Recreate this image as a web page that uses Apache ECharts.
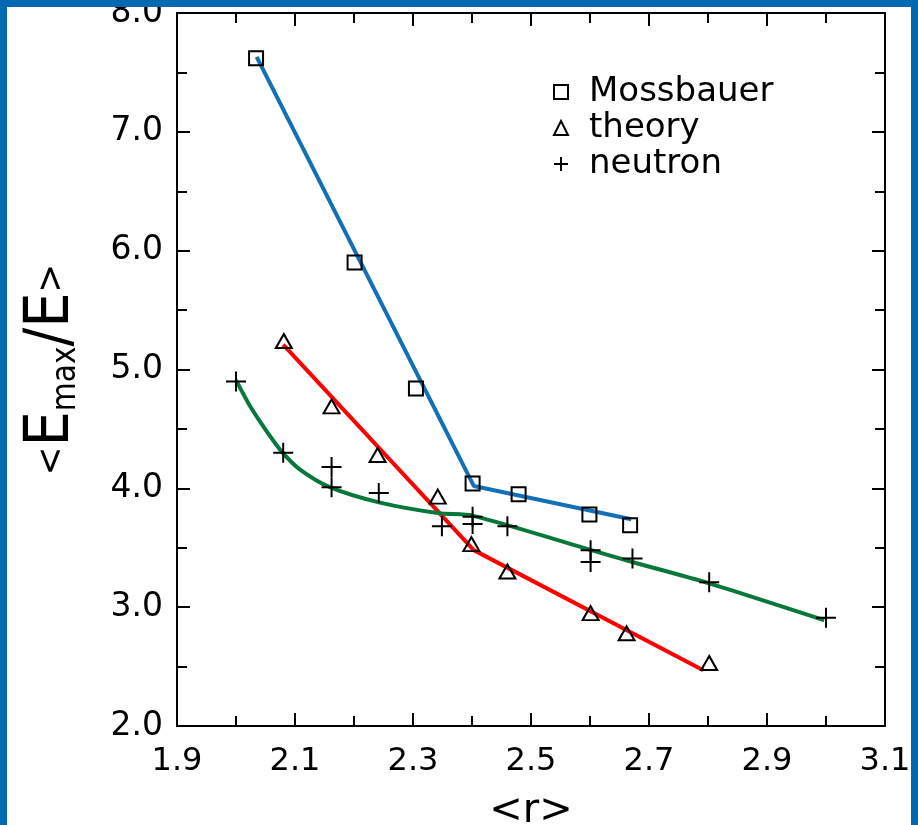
<!DOCTYPE html>
<html>
<head>
<meta charset="utf-8">
<script src="https://cdn.jsdelivr.net/npm/echarts@6/dist/echarts.min.js"></script>
<style>
html,body{margin:0;padding:0;background:#fff;}
#wrap{position:relative;width:918px;height:825px;overflow:hidden;}
#chart{position:absolute;left:0;top:0;width:918px;height:825px;}
.bd{position:absolute;background:#0068b0;}
</style>
</head>
<body>
<div id="wrap">
<div id="chart"></div>
<div class="bd" style="left:0;top:0;width:918px;height:7px;"></div>
<div class="bd" style="left:0;top:0;width:7px;height:825px;"></div>
<div class="bd" style="right:0;top:0;width:7px;height:825px;"></div>
</div>
<script>
// ---- data ----
const mossX = [2.034, 2.201, 2.305, 2.401, 2.479, 2.599, 2.668];
const mossY = [7.62, 5.90, 4.84, 4.04, 3.95, 3.78, 3.69];

const theoryX = [2.081, 2.162, 2.240, 2.342, 2.399, 2.460, 2.601, 2.662, 2.802];
const theoryY = [5.24, 4.69, 4.28, 3.93, 3.53, 3.30, 2.95, 2.78, 2.53];

const neutronX = [2.00, 2.08, 2.162, 2.162, 2.242, 2.349, 2.401, 2.401, 2.460, 2.601, 2.601, 2.672, 2.802, 3.00];
const neutronY = [4.90, 4.30, 4.18, 4.01, 3.96, 3.68, 3.76, 3.70, 3.68, 3.48, 3.38, 3.41, 3.21, 2.91];

// fitted lines
const mossFitX = [2.035, 2.403, 2.670];
const mossFitY = [7.63, 4.02, 3.74];
const theoryFitX = [2.080, 2.403, 2.792];
const theoryFitY = [5.21, 3.48, 2.47];
const neutronFitX = [2.000, 2.024, 2.052, 2.079, 2.108, 2.159, 2.244, 2.345, 2.401, 2.602, 2.672, 2.802, 2.997];
const neutronFitY = [4.91, 4.69, 4.48, 4.30, 4.16, 4.01, 3.88, 3.79, 3.77, 3.48, 3.38, 3.20, 2.89];

const xTickLabels = ['1.9','2.1','2.3','2.5','2.7','2.9','3.1'];
const yTickLabels = ['2.0','3.0','4.0','5.0','6.0','7.0','8.0'];

function zip(a, b) { return a.map((v, i) => [v, b[i]]); }

const chart = echarts.init(document.getElementById('chart'), null, {renderer: 'canvas'});
const FONT = 'DejaVu Sans';
const hollow = {color: 'rgba(255,255,255,0)', borderColor: '#000', borderWidth: 2, opacity: 1};
const plusPath = 'path://M10,0 L10,20 M0,10 L20,10';

const axisCommon = {
  axisLine: {show: true, onZero: false, lineStyle: {color: '#000', width: 2}},
  axisTick: {show: true, inside: true, length: 13, lineStyle: {color: '#000', width: 2}},
  minorTick: {show: true, splitNumber: 2, length: 10, lineStyle: {color: '#000', width: 2}},
  splitLine: {show: false},
  minorSplitLine: {show: false}
};

const option = {
  animation: false,
  backgroundColor: '#fff',
  grid: {left: 177, top: 13, right: 33, bottom: 99, containLabel: false, outerBoundsMode: 'none'},
  legend: {
    orient: 'vertical',
    left: 548,
    top: 69,
    itemWidth: 14,
    itemHeight: 14,
    itemGap: 0,
    data: [
      {name: 'Mossbauer'},
      {name: 'theory'},
      {name: 'neutron'}
    ],
    textStyle: {fontFamily: FONT, fontSize: 34, color: '#000', lineHeight: 36, padding: [0, 0, 0, 16]}
  },
  xAxis: [
    Object.assign({
      type: 'value', position: 'bottom', min: 1.9, max: 3.1, interval: 0.2,
      name: '<r>', nameLocation: 'middle', nameGap: 66,
      nameTextStyle: {fontFamily: FONT, fontSize: 40, color: '#000'},
      axisLabel: {
        show: true, margin: 20, color: '#000', fontFamily: FONT, fontSize: 32,
        formatter: function (v) {
          const s = v.toFixed(1);
          return xTickLabels.indexOf(s) >= 0 ? s : '';
        }
      }
    }, axisCommon),
    Object.assign({
      type: 'value', position: 'top', min: 1.9, max: 3.1, interval: 0.2,
      axisLabel: {show: false}
    }, axisCommon)
  ],
  yAxis: [
    Object.assign({
      type: 'value', position: 'left', min: 2, max: 8, interval: 1,
      name: '{b|<}{e|E}{s|max}{sl|/}{e|E}{b|>}',
      nameLocation: 'middle', nameRotate: 90, nameGap: 94,
      nameTextStyle: {
        color: '#000',
        rich: {
          b: {fontFamily: 'DejaVu Sans Condensed', fontSize: 38, color: '#000', lineHeight: 62},
          e: {fontFamily: 'DejaVu Sans Condensed', fontSize: 62, color: '#000', lineHeight: 62},
          s: {fontFamily: 'DejaVu Sans Condensed', fontSize: 33, color: '#000', lineHeight: 24, verticalAlign: 'bottom'},
          sl: {fontFamily: 'DejaVu Sans Condensed', fontSize: 62, color: '#000', lineHeight: 62}
        }
      },
      axisLabel: {
        show: true, margin: 14, color: '#000', fontFamily: FONT, fontSize: 33,
        formatter: function (v) {
          const s = v.toFixed(1);
          return yTickLabels.indexOf(s) >= 0 ? s : '';
        }
      }
    }, axisCommon),
    Object.assign({
      type: 'value', position: 'right', min: 2, max: 8, interval: 1,
      axisLabel: {show: false}
    }, axisCommon)
  ],
  series: [
    {
      name: 'Mossbauer fit', type: 'line', data: zip(mossFitX, mossFitY),
      showSymbol: false, symbol: 'none', lineStyle: {color: '#1170b8', width: 4}, z: 3
    },
    {
      name: 'theory fit', type: 'line', data: zip(theoryFitX, theoryFitY),
      showSymbol: false, symbol: 'none', lineStyle: {color: '#ff0000', width: 4}, z: 3
    },
    {
      name: 'neutron fit', type: 'line', data: zip(neutronFitX, neutronFitY),
      showSymbol: false, symbol: 'none', smooth: 0.25,
      lineStyle: {color: '#08783a', width: 4}, z: 3
    },
    {
      name: 'Mossbauer', type: 'scatter', data: zip(mossX, mossY),
      symbol: 'rect', symbolSize: 14, itemStyle: hollow, z: 4
    },
    {
      name: 'theory', type: 'scatter', data: zip(theoryX, theoryY),
      symbol: 'triangle', symbolSize: [16, 14], itemStyle: hollow, z: 4
    },
    {
      name: 'neutron', type: 'scatter', data: zip(neutronX, neutronY),
      symbol: plusPath, symbolSize: 20, itemStyle: hollow, z: 4
    }
  ]
};
chart.setOption(option);
</script>
</body>
</html>
